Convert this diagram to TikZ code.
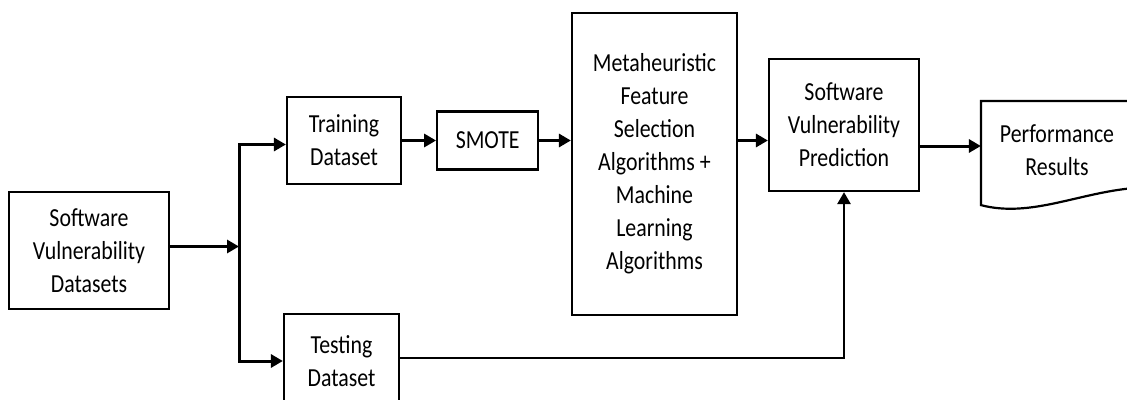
\documentclass[tikz,border=0pt]{standalone}
\usepackage{fontspec}
\setmainfont{Carlito}[FakeStretch=0.84]
\usetikzlibrary{arrows.meta, calc, positioning}

\begin{document}
\begin{tikzpicture}[
  x=1pt, y=-1pt,
  >={Triangle[length=12pt, width=13pt]},
  block/.style={draw, line width=2.2pt, align=center, inner sep=0pt,
    font=\fontsize{26}{33}\selectfont},
  flow/.style={line width=3pt},
]
  \useasboundingbox (0,0) rectangle (1127,399);

  \node[block, minimum width=160pt, minimum height=117pt] (svd) at (89,250.5) {Software\\Vulnerability\\Datasets};
  \node[block, minimum width=114pt, minimum height=87pt] (train) at (344,140.5) {Training\\Dataset};
  \node[block, minimum width=101pt, minimum height=58pt, right=34pt of train] (smote) {SMOTE};
  \node[block, minimum width=165pt, minimum height=302pt] (meta) at (654.5,164) {Metaheuristic\\Feature\\Selection\\Algorithms +\\Machine\\Learning\\Algorithms};
  \node[block, minimum width=150pt, minimum height=132pt] (svp) at (844,125) {Software\\Vulnerability\\Prediction};
  \node[block, minimum width=115pt, minimum height=94pt] (test) at (341.5,361) {Testing\\Dataset};
  \node[block, draw=none, minimum width=150pt, minimum height=96pt] (perf) at (1057,150) {Performance\\Results};
  \draw[line width=2.2pt] (perf.north west) -- (perf.north east) -- ($(perf.south east)+(0,-11)$)
    .. controls (1078,193) and (1030,218) .. ($(perf.south west)+(0,6)$) -- cycle;

  \coordinate (fork) at (239,0);
  \draw[flow, ->] ([yshift=4pt]svd.east) -- ([yshift=4pt]svd.east -| fork);
  \draw[flow, <->] ([yshift=-4pt]train.west) -- ([yshift=-4pt]train.west -| fork) -- (fork |- test.west) -- (test.west);
  \draw[flow, ->] (train.east) -- (smote.west);
  \draw[flow, ->] (smote.east) -- (smote.east -| meta.west);
  \draw[flow, ->] (meta.east |- smote.east) -- (svp.west |- smote.east);
  \draw[flow, ->] ([yshift=-21pt]svp.east) -- ([yshift=-21pt]svp.east -| perf.west);
  \draw[line width=2.6pt, ->] ([yshift=3pt]test.east) -- ([yshift=3pt]test.east -| svp.south) -- (svp.south);
\end{tikzpicture}
\end{document}
